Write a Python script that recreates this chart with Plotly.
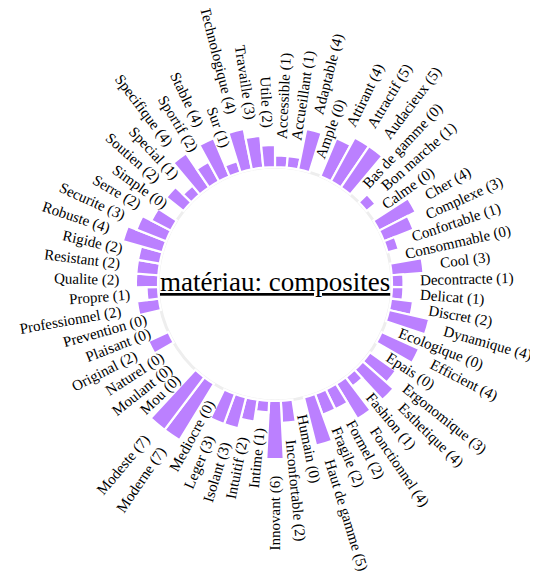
import math
import plotly.graph_objects as go

# adjectifs (ordre alphabétique, sens horaire depuis le haut) et nombre de citations
adjectifs = [
    "Accessible", "Accueillant", "Adaptable", "Ample", "Attirant", "Attractif",
    "Audacieux", "Bas de gamme", "Bon marche", "Calme", "Cher", "Complexe",
    "Confortable", "Consommable", "Cool", "Decontracte", "Delicat", "Discret",
    "Dynamique", "Ecologique", "Efficient", "Epais", "Ergonomique", "Esthetique",
    "Fashion", "Fonctionnel", "Formel", "Fragile", "Haut de gamme", "Humain",
    "Inconfortable", "Innovant", "Intime", "Intuitif", "Isolant", "Leger",
    "Mediocre", "Moderne", "Modeste", "Mou", "Moulant", "Naturel", "Original",
    "Plaisant", "Prevention", "Professionnel", "Propre", "Qualite", "Resistant",
    "Rigide", "Robuste", "Securite", "Serre", "Simple", "Soutien", "Special",
    "Specifique", "Sportif", "Stable", "Sur", "Technologique", "Travaille", "Utile",
]
valeurs = [
    1, 1, 4, 0, 4, 5,
    5, 0, 1, 0, 4, 3,
    1, 0, 3, 1, 1, 2,
    4, 0, 4, 0, 3, 4,
    1, 4, 2, 2, 5, 0,
    2, 6, 1, 2, 3, 3,
    0, 7, 7, 0, 0, 0, 2,
    0, 0, 2, 1, 2, 2,
    2, 4, 3, 2, 0, 2, 1,
    4, 2, 4, 1, 4, 3, 2,
]
titre = "matériau: composites"

W, H = 538, 576
CX, CY = 267, 276          # centre du cercle (px, dans la figure ; la page ajoute 8px de marge)
R_INT, R_EXT = 117, 183    # rayon intérieur / extérieur (px)
R_AXE = 200                # rayon du domaine polaire (px)
VMAX = max(valeurs)
COULEUR = "#bb80ff"
TAILLE = 15
POLICE = "Liberation Serif"
ECART = 17                 # distance barre -> étiquette

N = len(adjectifs)
pas = 360 / N
angles = [(i + 0.5) * pas for i in range(N)]


def rayon(v):
    # échelle radiale (type d3.scaleRadial)
    return math.sqrt(R_INT ** 2 + (R_EXT ** 2 - R_INT ** 2) * v / VMAX)


# largeurs Times / Liberation Serif (1/1000 em)
LARG = dict(zip("abcdefghijklmnopqrstuvwxyz",
                [444, 500, 444, 500, 444, 333, 500, 500, 278, 278, 500, 278, 778,
                 500, 500, 500, 500, 333, 389, 278, 500, 500, 722, 500, 500, 444]))
LARG.update(dict(zip("ABCDEFGHIJKLMNOPQRSTUVWXYZ",
                     [722, 667, 667, 722, 611, 556, 722, 722, 333, 389, 722, 611, 889,
                      722, 722, 556, 722, 667, 556, 611, 722, 722, 944, 722, 722, 611])))
LARG.update({" ": 250, "(": 333, ")": 333})
for c in "0123456789":
    LARG[c] = 500


def largeur(txt):
    return sum(LARG.get(c, 500) for c in txt) * TAILLE / 1000


fig = go.Figure(go.Barpolar(
    r=[rayon(v) - R_INT for v in valeurs],
    base=R_INT,
    theta=angles,
    width=pas,
    marker=dict(color=COULEUR, line=dict(color="white", width=2.2)),
    hoverinfo="skip",
))

annotations = []
for nom, v, a in zip(adjectifs, valeurs, angles):
    txt = f"{nom} ({v})"
    rc = rayon(v) + ECART + largeur(txt) / 2
    px = CX + rc * math.sin(math.radians(a))
    py = CY - rc * math.cos(math.radians(a))
    rot = a - 90 if a < 179.99 else a - 270
    annotations.append(dict(
        x=px / W, y=1 - py / H, xref="paper", yref="paper",
        text=txt, showarrow=False, textangle=rot,
        xanchor="center", yanchor="middle",
        font=dict(family=POLICE, size=TAILLE, color="black"),
    ))

annotations.append(dict(
    x=CX / W, y=1 - (CY - 2) / H, xref="paper", yref="paper",
    text=f"<u>{titre}</u>", showarrow=False,
    xanchor="center", yanchor="middle",
    font=dict(family=POLICE, size=27, color="black"),
))

fig.update_layout(
    width=W, height=H,
    margin=dict(l=0, r=0, t=0, b=0),
    paper_bgcolor="white",
    showlegend=False,
    font=dict(family=POLICE),
    polar=dict(
        domain=dict(x=[(CX - R_AXE) / W, (CX + R_AXE) / W],
                    y=[(H - CY - R_AXE) / H, (H - CY + R_AXE) / H]),
        bgcolor="rgba(0,0,0,0)",
        radialaxis=dict(range=[0, R_AXE], visible=False, showgrid=False),
        angularaxis=dict(rotation=90, direction="clockwise", visible=False,
                         showgrid=False, showline=False, ticks=""),
    ),
    shapes=[dict(
        type="circle", xref="paper", yref="paper", layer="below",
        x0=(CX - R_INT) / W, x1=(CX + R_INT) / W,
        y0=1 - (CY + R_INT) / H, y1=1 - (CY - R_INT) / H,
        line=dict(color="#eeeeee", width=3),
    )],
    annotations=annotations,
)

fig.write_html("out.html")
